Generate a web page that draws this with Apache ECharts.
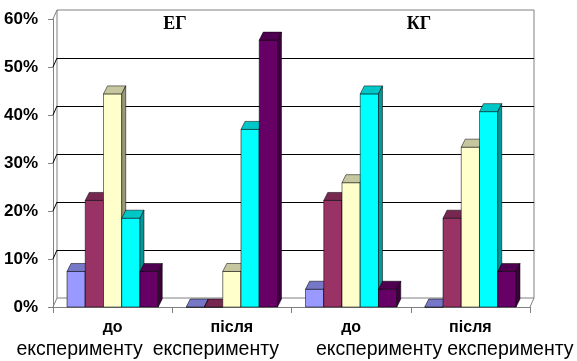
<!DOCTYPE html>
<html>
<head>
<meta charset="utf-8">
<script src="https://cdn.jsdelivr.net/npm/echarts@6/dist/echarts.min.js"></script>
<style>
html, body { margin: 0; padding: 0; background: #fff; }
#main { width: 577px; height: 361px; }
</style>
</head>
<body>
<div id="main"></div>
<script>
// дані (частка учнів, %)
let catTop = ['до', 'після', 'до', 'після']
let catBottom = ['експерименту', 'експерименту', 'експерименту', 'експерименту']
let yTicks = [0, 10, 20, 30, 40, 50, 60]
let groupNames = ['ЕГ', 'КГ']
let s1 = [7.4, 0, 3.7, 0]
let s2 = [22.2, 0, 22.2, 18.5]
let s3 = [44.4, 7.4, 25.9, 33.3]
let s4 = [18.5, 37.0, 44.4, 40.7]
let s5 = [7.4, 55.6, 3.7, 7.4]

let colors = ['#9999FF', '#993366', '#FFFFCC', '#00FFFF', '#660066']
let DX = 4, DY = 9      // глибина стінок
let BDX = 4, BDY = 8    // глибина стовпчиків
let wordShift = [-33, -16, 28, 40]

function shade(hex, k) {
    let n = parseInt(hex.slice(1), 16)
    let r = Math.round(((n >> 16) & 255) * k)
    let g = Math.round(((n >> 8) & 255) * k)
    let b = Math.round((n & 255) * k)
    return 'rgb(' + r + ',' + g + ',' + b + ')'
}

function makeBar(k) {
    return function (params, api) {
        let idx = api.value(0)
        let v = api.value(1)
        let band = api.size([1, 0])[0]
        let bw = band * 0.153
        let c = api.coord([idx, 0])
        let top = api.coord([idx, v])[1]
        let bot = c[1]
        let x0 = c[0] + (k - 2) * bw - bw / 2
        let col = colors[k]
        let st = { stroke: 'rgba(0,0,0,0.75)', lineWidth: 0.7 }
        return {
            type: 'group',
            children: [
                { type: 'rect', shape: { x: x0, y: top, width: bw, height: bot - top },
                  style: Object.assign({ fill: col }, st) },
                { type: 'polygon', shape: { points: [[x0, top], [x0 + BDX, top - BDY], [x0 + bw + BDX, top - BDY], [x0 + bw, top]] },
                  style: Object.assign({ fill: shade(col, 0.78) }, st) },
                { type: 'polygon', shape: { points: [[x0 + bw, top], [x0 + bw + BDX, top - BDY], [x0 + bw + BDX, bot - BDY], [x0 + bw, bot]] },
                  style: Object.assign({ fill: shade(col, 0.6) }, st) }
            ]
        }
    }
}

function renderFrame(params, api) {
    let cs = params.coordSys
    let v = api.value(1)
    let y = api.coord([0, v])[1]
    let edge = (v === yTicks[0] || v === yTicks[yTicks.length - 1])
    let children = [{
        type: 'line',
        shape: { x1: cs.x, y1: y, x2: cs.x + DX, y2: y - DY },
        style: { stroke: edge ? '#808080' : '#000', lineWidth: 1 }
    }]
    if (v === yTicks[0]) {
        children.push({
            type: 'line',
            shape: { x1: cs.x + cs.width, y1: y, x2: cs.x + cs.width + DX, y2: y - DY },
            style: { stroke: '#808080', lineWidth: 1 }
        })
    }
    return { type: 'group', children: children }
}

let rich = {
    t: { fontFamily: 'Liberation Sans', fontWeight: 'bold', fontSize: 16, lineHeight: 20, color: '#000' }
}
wordShift.forEach(function (s, i) {
    rich['w' + i] = {
        fontFamily: '"Liberation Sans Narrow", "Liberation Sans", sans-serif',
        fontSize: 19.5, lineHeight: 24, color: '#000',
        padding: s < 0 ? [0, -2 * s, 0, 0] : [0, 0, 0, 2 * s]
    }
})

let allSeries = [s1, s2, s3, s4, s5]
let series = [{
    type: 'custom',
    xAxisIndex: 0, yAxisIndex: 0,
    renderItem: renderFrame,
    data: yTicks.map(function (v) { return [0, v] }),
    clip: false, silent: true, z: 1
}]
allSeries.forEach(function (d, k) {
    series.push({
        type: 'custom',
        xAxisIndex: 0, yAxisIndex: 0,
        renderItem: makeBar(k),
        data: d.map(function (v, i) { return [i, v] }),
        clip: false, silent: true, z: 3
    })
})

let myChart = echarts.init(document.getElementById('main'))
let option = {
    animation: false,
    backgroundColor: '#fff',
    grid: [
        { left: 53, right: 47, top: 19, bottom: 54, containLabel: false, outerBoundsMode: 'none' },
        { left: 57, right: 43, top: 10, bottom: 63, containLabel: false, outerBoundsMode: 'none',
          show: true, borderColor: '#808080', borderWidth: 1, backgroundColor: 'transparent' }
    ],
    xAxis: [
        {
            gridIndex: 0, type: 'category', data: catTop,
            boundaryGap: true,
            axisLine: { lineStyle: { color: '#808080', width: 1 } },
            axisTick: { show: true, length: 6, alignWithLabel: false, lineStyle: { color: '#808080' } },
            axisLabel: {
                interval: 0, margin: 11, hideOverlap: false,
                formatter: function (v, i) { return '{t|' + catTop[i] + '}\n{w' + i + '|' + catBottom[i] + '}' },
                rich: rich
            }
        },
        { gridIndex: 1, type: 'category', data: catTop, show: false }
    ],
    yAxis: [
        {
            gridIndex: 0, type: 'value', min: 0, max: 60, interval: 10,
            axisLine: { show: true, lineStyle: { color: '#808080', width: 1 } },
            axisTick: { show: true, length: 5, lineStyle: { color: '#808080' } },
            splitLine: { show: false },
            axisLabel: {
                formatter: '{value}%', margin: 15, color: '#000',
                fontFamily: 'Liberation Sans', fontWeight: 'bold', fontSize: 17
            }
        },
        {
            gridIndex: 1, type: 'value', min: 0, max: 60, interval: 10,
            axisLine: { show: false }, axisTick: { show: false }, axisLabel: { show: false },
            splitLine: { show: true, showMinLine: false, showMaxLine: false, lineStyle: { color: '#000', width: 1 } }
        }
    ],
    graphic: [
        { type: 'text', x: 175, y: 24, z: 10, style: { text: groupNames[0], textAlign: 'center', textVerticalAlign: 'middle', fill: '#000', font: 'bold 18px "Liberation Serif"' } },
        { type: 'text', x: 419, y: 24, z: 10, style: { text: groupNames[1], textAlign: 'center', textVerticalAlign: 'middle', fill: '#000', font: 'bold 18px "Liberation Serif"' } }
    ],
    series: series
}
myChart.setOption(option)
</script>
</body>
</html>
